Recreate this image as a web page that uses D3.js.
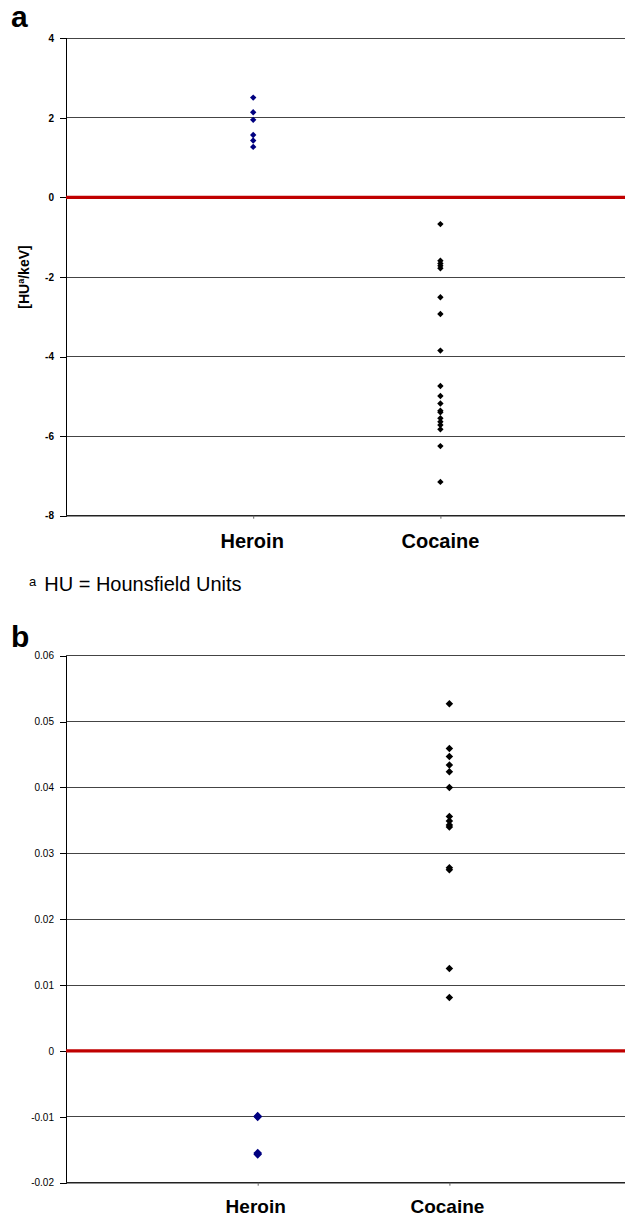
<!DOCTYPE html>
<html><head><meta charset="utf-8">
<script src="https://cdn.jsdelivr.net/npm/d3@7"></script>
<style>
html,body{margin:0;padding:0;background:#fff;}
svg{display:block;font-family:"Liberation Sans",Arial,sans-serif;}
</style></head>
<body>
<svg id="c" width="625" height="1218"></svg>
<script>
const categories = ["Heroin", "Cocaine"];
const heroinA = [2.51, 2.14, 1.95, 1.57, 1.43, 1.27];
const cocaineA = [-0.67, -1.59, -1.66, -1.72, -1.78, -2.51, -2.93, -3.85, -4.74, -4.99, -5.18, -5.36, -5.40, -5.55, -5.64, -5.72, -5.83, -6.25, -7.15];
const ticksA = [4, 2, 0, -2, -4, -6, -8];
const heroinB = [-0.0099, -0.0100, -0.0155, -0.0157];
const cocaineB = [0.0527, 0.0459, 0.0447, 0.0434, 0.0424, 0.0400, 0.0356, 0.0349, 0.0343, 0.0340, 0.0278, 0.0275, 0.0125, 0.0081];
const ticksB = [0.06, 0.05, 0.04, 0.03, 0.02, 0.01, 0, -0.01, -0.02];
const tickLabelsB = ["0.06", "0.05", "0.04", "0.03", "0.02", "0.01", "0", "-0.01", "-0.02"];

const svg = d3.select("#c");

function panel(opt) {
  const g = svg.append("g");
  const x = d3.scaleLinear().domain([0, 3]).range([66, opt.xRight]);
  const y = d3.scaleLinear().domain([opt.ticks[opt.ticks.length-1], opt.ticks[0]]).range([opt.yBottom, opt.yTop]);
  g.selectAll("line.grid").data(opt.ticks.filter(t => t !== 0 && t !== opt.ticks[opt.ticks.length-1]))
    .enter().append("line")
    .attr("x1", 66).attr("x2", 625)
    .attr("y1", d => y(d)).attr("y2", d => y(d))
    .attr("stroke", "#444").attr("stroke-width", 1).attr("shape-rendering", "crispEdges");
  const ya = d3.axisLeft(y).tickValues(opt.ticks).tickSize(6).tickPadding(6)
    .tickFormat((d, i) => opt.labels[i]);
  const yg = g.append("g").attr("transform", "translate(66,0)").call(ya);
  yg.select(".domain").attr("stroke", "#000").attr("shape-rendering", "crispEdges");
  yg.selectAll(".tick line").attr("stroke", "#000").attr("shape-rendering", "crispEdges");
  yg.selectAll(".tick text").attr("font-size", opt.tickFont).attr("font-weight", opt.tickWeight)
    .attr("fill", "#000").attr("font-family", "Liberation Sans, Arial, sans-serif");
  const xa = d3.axisBottom(x).tickValues([1, 2]).tickSize(3).tickFormat("");
  const xg = g.append("g").attr("transform", `translate(0,${opt.yBottom})`).call(xa);
  xg.select(".domain").attr("d", `M66,0H625`).attr("stroke", "#222").attr("stroke-width", 1.5);
  xg.selectAll(".tick line").attr("stroke", "#666");
  g.selectAll("text.cat").data(categories).enter().append("text")
    .attr("x", (d, i) => x(i + 1) + opt.catDx[i]).attr("y", opt.catY)
    .attr("text-anchor", "middle").attr("font-size", opt.catFont).attr("font-weight", "bold")
    .text(d => d);
  g.append("line").attr("x1", 66).attr("x2", 625).attr("y1", y(0)).attr("y2", y(0))
    .attr("stroke", "#c00000").attr("stroke-width", 3.3);
  const series = [{v: opt.heroin, c: "#000080", xi: 1, s: opt.symH}, {v: opt.cocaine, c: "#000", xi: 2, s: opt.symC}];
  series.forEach(s => {
    const sym = d3.symbol().type(d3.symbolDiamond2).size(s.s);
    g.selectAll(null).data(s.v).enter().append("path")
      .attr("d", sym)
      .attr("transform", d => `translate(${x(s.xi)},${y(d)})`)
      .attr("fill", s.c);
  });
  return {x, y};
}

panel({ticks: ticksA, labels: ticksA.map(String), yTop: 38.3, yBottom: 515.7, xRight: 66 + 3 * 187.2,
  tickFont: 10, tickWeight: "bold", heroin: heroinA, cocaine: cocaineA, symH: 26, symC: 26, catY: 548, catFont: 20, catDx: [-1, 0]});
panel({ticks: ticksB, labels: tickLabelsB, yTop: 655.7, yBottom: 1182.7, xRight: 66 + 3 * 191.7,
  tickFont: 10, tickWeight: "normal", heroin: heroinB, cocaine: cocaineB, symH: 48, symC: 36, catY: 1213, catFont: 19, catDx: [-2, -2]});

svg.append("text").attr("x", 11).attr("y", 27).attr("font-size", 30).attr("font-weight", "bold").text("a");
svg.append("text").attr("x", 11).attr("y", 647).attr("font-size", 30).attr("font-weight", "bold").text("b");

const yl = svg.append("text").attr("transform", "translate(29,277) rotate(-90)")
  .attr("text-anchor", "middle").attr("font-size", 14).attr("font-weight", "bold");
yl.append("tspan").text("[HU");
yl.append("tspan").attr("font-size", 9).attr("dy", -5).text("a");
yl.append("tspan").attr("dy", 5).text("/keV]");

const fn = svg.append("text").attr("x", 29).attr("y", 591).attr("font-size", 20);
fn.append("tspan").attr("font-size", 13).attr("dy", -5).text("a");
fn.append("tspan").attr("dx", 8).attr("dy", 5).text("HU = Hounsfield Units");
</script>
</body></html>
